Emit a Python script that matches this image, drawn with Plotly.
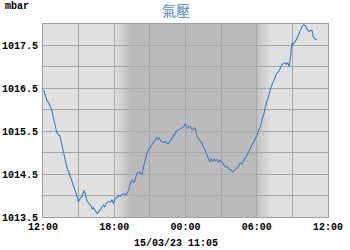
import pandas as pd
import plotly.graph_objects as go

# hours after 2023-03-14 12:00 and pressure (mbar)
hours = [0.00, 0.08, 0.31, 0.50, 0.73, 0.85, 1.01, 1.15, 1.29, 1.40, 1.50, 1.71, 1.85, 2.00, 2.20,
         2.42, 2.55, 2.70, 2.85, 2.98, 3.12, 3.30, 3.46, 3.55, 3.68, 3.85, 4.02, 4.15, 4.24, 4.40,
         4.58, 4.70, 4.80, 4.95, 5.09, 5.20, 5.37, 5.55, 5.71, 5.80, 5.93, 6.07, 6.21, 6.35, 6.50,
         6.64, 6.80, 7.00, 7.20, 7.35, 7.48, 7.60, 7.67, 7.90, 8.05, 8.18, 8.32, 8.45, 8.60, 8.75,
         8.88, 9.10, 9.30, 9.45, 9.59, 9.70, 9.80, 9.90, 10.00, 10.15, 10.30, 10.45, 10.57, 10.70,
         10.85, 11.00, 11.13, 11.30, 11.42, 11.55, 11.70, 11.85, 11.97, 12.08, 12.17, 12.30, 12.40,
         12.50, 12.62, 12.72, 12.82, 13.00, 13.20, 13.38, 13.50, 13.66, 13.80, 13.94, 14.05, 14.15,
         14.30, 14.40, 14.50, 14.65, 14.78, 14.90, 15.07, 15.20, 15.35, 15.50, 15.63, 15.80, 16.00,
         16.15, 16.33, 16.50, 16.61, 16.75, 16.89, 17.05, 17.20, 17.33, 17.45, 17.60, 17.79, 17.90,
         18.02, 18.15, 18.30, 18.44, 18.55, 18.63, 18.72, 18.85, 19.00, 19.15, 19.28, 19.42, 19.56,
         19.70, 19.84, 19.98, 20.13, 20.25, 20.40, 20.50, 20.60, 20.74, 20.83, 20.90, 20.97, 21.05,
         21.15, 21.25, 21.40, 21.53, 21.65, 21.81, 21.95, 22.10, 22.20, 22.37, 22.50, 22.66, 22.75,
         22.85, 23.00, 23.08]
pressure = [1016.47, 1016.45, 1016.23, 1016.15, 1016.00, 1015.85, 1015.60, 1015.48, 1015.41, 1015.40,
            1015.30, 1015.06, 1014.85, 1014.67, 1014.52, 1014.36, 1014.25, 1014.12, 1014.00, 1013.85,
            1013.93, 1013.98, 1014.12, 1014.05, 1013.89, 1013.82, 1013.77, 1013.68, 1013.72, 1013.65,
            1013.58, 1013.62, 1013.66, 1013.72, 1013.78, 1013.74, 1013.83, 1013.86, 1013.85, 1013.91,
            1013.81, 1013.93, 1013.95, 1014.00, 1013.98, 1014.02, 1014.04, 1014.02, 1014.12, 1014.28,
            1014.36, 1014.33, 1014.30, 1014.50, 1014.55, 1014.53, 1014.49, 1014.65, 1014.83, 1014.98,
            1015.06, 1015.15, 1015.22, 1015.30, 1015.36, 1015.31, 1015.34, 1015.28, 1015.26, 1015.24,
            1015.26, 1015.21, 1015.22, 1015.28, 1015.33, 1015.40, 1015.45, 1015.52, 1015.54, 1015.56,
            1015.57, 1015.60, 1015.67, 1015.62, 1015.57, 1015.62, 1015.61, 1015.56, 1015.53, 1015.58,
            1015.56, 1015.36, 1015.28, 1015.22, 1015.14, 1015.06, 1014.95, 1014.83, 1014.78, 1014.85,
            1014.80, 1014.86, 1014.81, 1014.84, 1014.78, 1014.82, 1014.78, 1014.72, 1014.67, 1014.68,
            1014.62, 1014.60, 1014.55, 1014.60, 1014.64, 1014.70, 1014.76, 1014.74, 1014.80, 1014.88,
            1014.95, 1015.02, 1015.10, 1015.18, 1015.26, 1015.33, 1015.40, 1015.52, 1015.60, 1015.76,
            1015.85, 1015.93, 1016.07, 1016.20, 1016.38, 1016.47, 1016.58, 1016.68, 1016.80, 1016.86,
            1016.89, 1016.98, 1017.05, 1017.08, 1017.10, 1017.06, 1017.10, 1017.01, 1017.24, 1017.42,
            1017.56, 1017.52, 1017.58, 1017.60, 1017.67, 1017.75, 1017.84, 1017.94, 1017.98, 1017.96,
            1017.90, 1017.83, 1017.84, 1017.85, 1017.70, 1017.66, 1017.64, 1017.63]

start = pd.Timestamp("2023-03-14 12:00")
end = pd.Timestamp("2023-03-15 12:00")
night_start = pd.Timestamp("2023-03-14 18:00")
night_end = pd.Timestamp("2023-03-15 06:00")
title_text = "氣壓"
unit_text = "mbar"
stamp_text = "15/03/23 11:05"

times = start + pd.to_timedelta(hours, unit="h")

LIGHT = (224, 224, 224)
DARK = (187, 187, 187)

fig = go.Figure()
fig.add_trace(go.Scatter(x=times, y=pressure, mode="lines",
                         line=dict(color="#3d7fc1", width=1.1), hoverinfo="skip"))

shapes = []
fade = pd.Timedelta(minutes=75)
steps = 15
shapes.append(dict(type="rect", xref="x", yref="paper", x0=night_start + fade, x1=night_end,
                   y0=0, y1=1, fillcolor="rgb(%d,%d,%d)" % DARK, line=dict(width=0), layer="below"))
for i in range(steps):
    f = (i + 0.5) / steps
    c = tuple(round(LIGHT[k] + (DARK[k] - LIGHT[k]) * f) for k in range(3))
    shapes.append(dict(type="rect", xref="x", yref="paper",
                       x0=night_start + fade * i / steps, x1=night_start + fade * (i + 1) / steps,
                       y0=0, y1=1, fillcolor="rgb(%d,%d,%d)" % c, line=dict(width=0), layer="below"))
    c2 = tuple(round(DARK[k] + (LIGHT[k] - DARK[k]) * f) for k in range(3))
    shapes.append(dict(type="rect", xref="x", yref="paper",
                       x0=night_end + fade * i / steps, x1=night_end + fade * (i + 1) / steps,
                       y0=0, y1=1, fillcolor="rgb(%d,%d,%d)" % c2, line=dict(width=0), layer="below"))

mono = dict(family="Liberation Mono", size=10, color="#000000", weight="bold")

fig.update_layout(
    width=350, height=250,
    margin=dict(l=43, r=22, t=24, b=33, autoexpand=False),
    paper_bgcolor="#ffffff",
    plot_bgcolor="rgb(%d,%d,%d)" % LIGHT,
    showlegend=False,
    shapes=shapes,
    xaxis=dict(type="date", range=[start, end], tick0="2023-03-14 00:00", dtick=6 * 3600 * 1000,
               tickformat="%H:%M", showgrid=True, gridcolor="#a8a8a8", gridwidth=1,
               minor=dict(dtick=3 * 3600 * 1000, tick0="2023-03-14 00:00", showgrid=True,
                          gridcolor="#a8a8a8", gridwidth=1),
               showline=True, mirror=True, linecolor="#a0a0a0", linewidth=1, automargin=False,
               ticks="", tickfont=mono, zeroline=False, fixedrange=True, ticklabelstandoff=0),
    yaxis=dict(range=[1013.5, 1018.0], tick0=1013.5, dtick=1, tickformat=".1f",
               showgrid=True, gridcolor="#a8a8a8", gridwidth=1,
               minor=dict(dtick=0.5, tick0=1013.5, showgrid=True, gridcolor="#a8a8a8", gridwidth=1),
               showline=True, mirror=True, linecolor="#a0a0a0", linewidth=1, automargin=False,
               ticks="", tickfont=mono, zeroline=False, fixedrange=True, ticklabelstandoff=2),
    annotations=[
        dict(text=title_text, xref="paper", yref="paper", x=0.5, y=1, yshift=14, xshift=-10,
             showarrow=False, xanchor="center", yanchor="middle",
             font=dict(family="Noto Sans CJK TC", size=14, color="#4a86c6")),
        dict(text=unit_text, xref="paper", yref="paper", x=0, xshift=-40, y=1, yshift=18,
             showarrow=False, xanchor="left", yanchor="middle", font=mono),
        dict(text=stamp_text, xref="paper", yref="paper", x=0.5, xshift=-10, y=0, yshift=-26,
             showarrow=False, xanchor="center", yanchor="middle", font=mono),
    ],
)

fig.write_html("out.html", config={"displayModeBar": False})
